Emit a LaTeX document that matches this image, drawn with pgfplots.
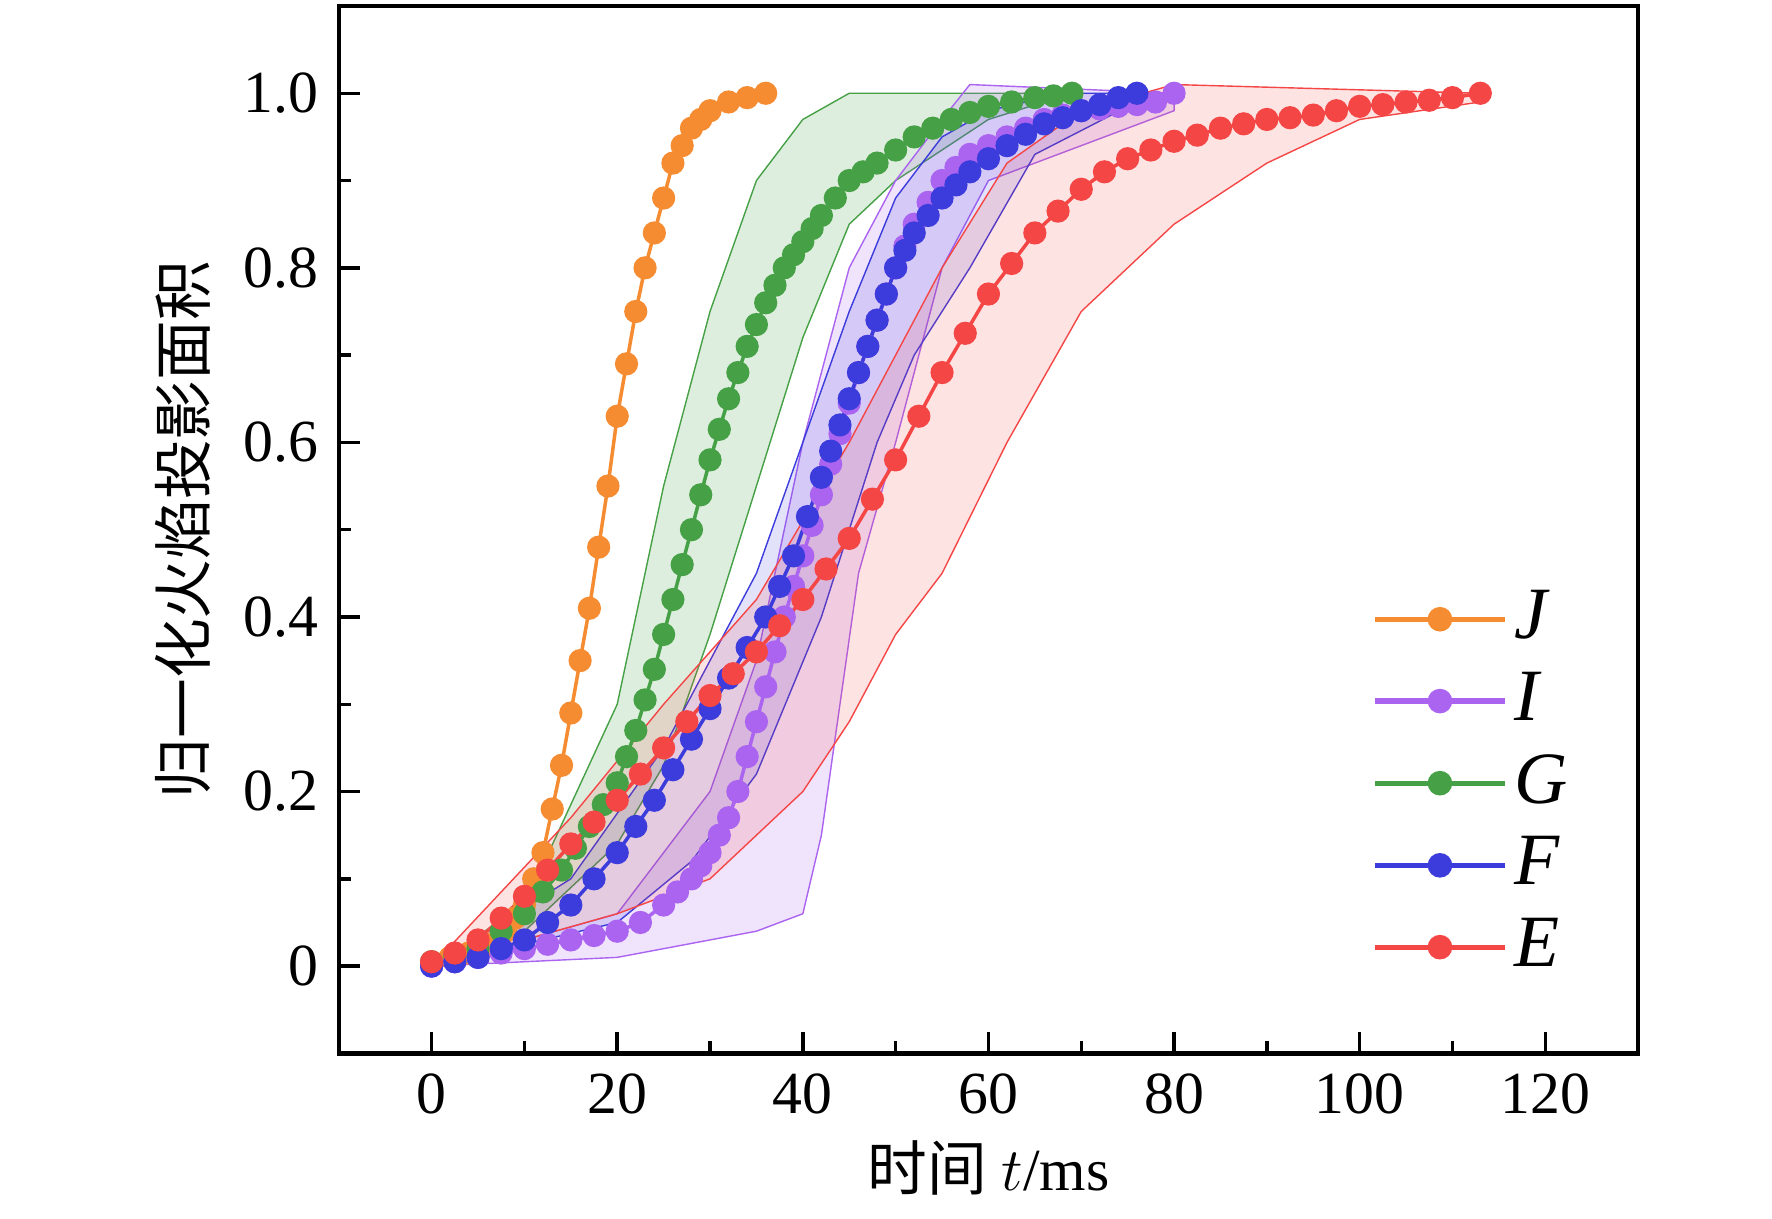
\documentclass[border=0pt]{standalone}
\usepackage{pgfplots}
\pgfplotsset{compat=1.18}
\usepackage{fontspec}
\setmainfont{Liberation Serif}
\newfontfamily\cjk{Noto Sans CJK SC}
\definecolor{cJ}{RGB}{245,140,50}
\definecolor{cI}{RGB}{170,100,240}
\definecolor{cG}{RGB}{70,160,70}
\definecolor{cF}{RGB}{60,60,220}
\definecolor{cE}{RGB}{245,70,70}
\begin{document}
\fontsize{17}{20}\selectfont
\begin{tikzpicture}
\begin{axis}[
  at={(0,0)}, anchor=south west,
  scale only axis, width=13cm, height=10.48cm,
  xmin=-10, xmax=130, ymin=-0.1, ymax=1.1,
  xtick={0,20,...,120}, minor xtick={10,30,...,110},
  ytick={0,0.2,0.4,0.6,0.8,1.0}, yticklabels={0,0.2,0.4,0.6,0.8,1.0},
  minor ytick={0.1,0.3,0.5,0.7,0.9},
  tick align=inside, major tick length=6pt, minor tick length=3.5pt,
  axis line style={line width=1.2pt}, tick style={line width=1pt, black},
  xtick pos=bottom, ytick pos=left,
  /pgf/number format/assume math mode=true,
  xlabel={{\cjk 时间} $t$/ms},
  ylabel={\cjk 归一化火焰投影面积},
  xlabel style={yshift=4pt}, ylabel style={yshift=-2pt},
  legend style={draw=none, fill=none, at={(0.96,0.06)}, anchor=south east, row sep=3pt, font=\fontsize{21}{23}\selectfont\itshape},
  legend cell align=left,
  legend image code/.code={\draw[#1,line width=1.5pt] (0cm,0cm) -- (1.3cm,0cm); \fill[#1] (0.65cm,0cm) circle (3pt);},
  every axis plot/.append style={line width=1pt},
]
% bands
\addplot[draw=cG, fill=cG, fill opacity=0.18, line width=0.4pt, forget plot] coordinates {(0,0)(10,0.07)(20,0.3)(25,0.55)(30,0.75)(35,0.9)(40,0.97)(45,1.0)(69,1.0)(60,0.97)(50,0.9)(45,0.85)(40,0.72)(35,0.55)(30,0.38)(25,0.23)(20,0.14)(10,0.04)(0,0)} -- cycle;
\addplot[draw=cI, fill=cI, fill opacity=0.18, line width=0.4pt, forget plot] coordinates {(0,0)(20,0.06)(30,0.2)(35,0.35)(40,0.6)(45,0.8)(50,0.9)(55,0.97)(58,1.01)(80,1.0)(80,0.98)(60,0.9)(55,0.8)(50,0.6)(46,0.45)(44,0.3)(42,0.15)(40,0.06)(35,0.04)(20,0.01)(0,0)} -- cycle;
\addplot[draw=cF, fill=cF, fill opacity=0.15, line width=0.4pt, forget plot] coordinates {(0,0)(15,0.1)(25,0.25)(35,0.45)(40,0.6)(45,0.75)(50,0.88)(55,0.95)(60,0.98)(68,1.0)(76,1.0)(76,0.99)(65,0.93)(58,0.8)(52,0.7)(48,0.6)(42,0.4)(35,0.22)(28,0.12)(20,0.05)(0,0)} -- cycle;
\addplot[draw=cE, fill=cE, fill opacity=0.15, line width=0.4pt, forget plot] coordinates {(0,0)(15,0.17)(25,0.3)(35,0.42)(45,0.6)(55,0.8)(62,0.92)(70,0.98)(80,1.01)(113,1.0)(113,0.99)(100,0.97)(90,0.92)(80,0.85)(70,0.75)(62,0.6)(55,0.45)(50,0.38)(45,0.28)(40,0.2)(30,0.1)(20,0.06)(0,0)} -- cycle;
% curves
\addplot[cJ, mark=*, mark size=2.8pt] coordinates {(0,0.005)(2,0.01)(4,0.015)(6,0.025)(8,0.04)(9,0.055)(10,0.07)(11,0.1)(12,0.13)(13,0.18)(14,0.23)(15,0.29)(16,0.35)(17,0.41)(18,0.48)(19,0.55)(20,0.63)(21,0.69)(22,0.75)(23,0.8)(24,0.84)(25,0.88)(26,0.92)(27,0.94)(28,0.96)(29,0.97)(30,0.98)(32,0.99)(34,0.995)(36,1.0)};
\addlegendentry{J}
\addplot[cI, mark=*, mark size=2.8pt] coordinates {(0,0)(2.5,0.005)(5,0.01)(7.5,0.015)(10,0.02)(12.5,0.025)(15,0.03)(17.5,0.035)(20,0.04)(22.5,0.05)(25,0.07)(26.5,0.085)(28,0.1)(29,0.115)(30,0.13)(31,0.15)(32,0.17)(33,0.2)(34,0.24)(35,0.28)(36,0.32)(37,0.36)(38,0.4)(39,0.435)(40,0.47)(41,0.505)(42,0.54)(43,0.575)(44,0.61)(45,0.645)(46,0.68)(47,0.71)(48,0.74)(49,0.77)(50,0.8)(51,0.825)(52,0.85)(53.5,0.875)(55,0.9)(56.5,0.915)(58,0.93)(60,0.94)(62,0.95)(64,0.96)(66,0.97)(68,0.975)(70,0.98)(72,0.982)(74,0.985)(76,0.987)(78,0.99)(80,1.0)};
\addlegendentry{I}
\addplot[cG, mark=*, mark size=2.8pt] coordinates {(0,0.005)(2.5,0.012)(5,0.02)(7.5,0.04)(10,0.06)(12,0.085)(14,0.11)(15.5,0.135)(17,0.16)(18.5,0.185)(20,0.21)(21,0.24)(22,0.27)(23,0.305)(24,0.34)(25,0.38)(26,0.42)(27,0.46)(28,0.5)(29,0.54)(30,0.58)(31,0.615)(32,0.65)(33,0.68)(34,0.71)(35,0.735)(36,0.76)(37,0.78)(38,0.8)(39,0.815)(40,0.83)(41,0.845)(42,0.86)(43.5,0.88)(45,0.9)(46.5,0.91)(48,0.92)(50,0.935)(52,0.95)(54,0.96)(56,0.97)(58,0.978)(60,0.985)(62.5,0.99)(65,0.995)(67,0.997)(69,1.0)};
\addlegendentry{G}
\addplot[cF, mark=*, mark size=2.8pt] coordinates {(0,0)(2.5,0.005)(5,0.01)(7.5,0.02)(10,0.03)(12.5,0.05)(15,0.07)(17.5,0.1)(20,0.13)(22,0.16)(24,0.19)(26,0.225)(28,0.26)(30,0.295)(32,0.33)(34,0.365)(36,0.4)(37.5,0.435)(39,0.47)(40.5,0.515)(42,0.56)(43,0.59)(44,0.62)(45,0.65)(46,0.68)(47,0.71)(48,0.74)(49,0.77)(50,0.8)(51,0.82)(52,0.84)(53.5,0.86)(55,0.88)(56.5,0.895)(58,0.91)(60,0.925)(62,0.94)(64,0.953)(66,0.965)(68,0.972)(70,0.98)(72,0.987)(74,0.995)(76,1.0)};
\addlegendentry{F}
\addplot[cE, mark=*, mark size=2.8pt] coordinates {(0,0.005)(2.5,0.015)(5,0.03)(7.5,0.055)(10,0.08)(12.5,0.11)(15,0.14)(17.5,0.165)(20,0.19)(22.5,0.22)(25,0.25)(27.5,0.28)(30,0.31)(32.5,0.335)(35,0.36)(37.5,0.39)(40,0.42)(42.5,0.455)(45,0.49)(47.5,0.535)(50,0.58)(52.5,0.63)(55,0.68)(57.5,0.725)(60,0.77)(62.5,0.805)(65,0.84)(67.5,0.865)(70,0.89)(72.5,0.91)(75,0.925)(77.5,0.935)(80,0.945)(82.5,0.952)(85,0.96)(87.5,0.965)(90,0.97)(92.5,0.972)(95,0.975)(97.5,0.98)(100,0.985)(102.5,0.987)(105,0.99)(107.5,0.992)(110,0.995)(113,1.0)};
\addlegendentry{E}
\end{axis}
\pgfresetboundingbox
\path (-3.39,-1.65) rectangle (14.34,10.54);
\end{tikzpicture}
\end{document}
